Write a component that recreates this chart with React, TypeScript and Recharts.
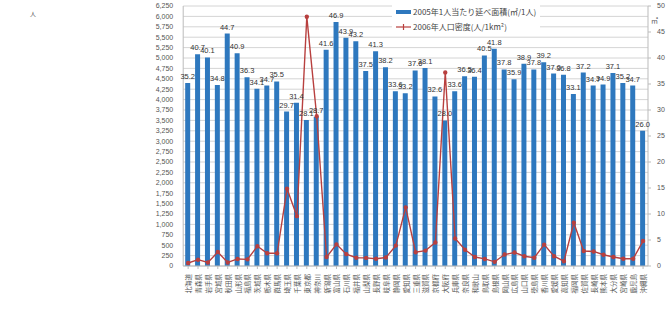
import { ComposedChart, Bar, Line, XAxis, YAxis, CartesianGrid, LabelList, Legend } from 'recharts';

const prefectures = [
  '北海道', '青森県', '岩手県', '宮城県', '秋田県', '山形県', '福島県', '茨城県', '栃木県', '群馬県',
  '埼玉県', '千葉県', '東京都', '神奈川', '新潟県', '富山県', '石川県', '福井県', '山梨県', '長野県',
  '岐阜県', '静岡県', '愛知県', '三重県', '滋賀県', '京都府', '大阪府', '兵庫県', '奈良県', '和歌山',
  '鳥取県', '島根県', '岡山県', '広島県', '山口県', '徳島県', '香川県', '愛媛県', '高知県', '福岡県',
  '佐賀県', '長崎県', '熊本県', '大分県', '宮崎県', '鹿児島', '沖縄県',
];

// 2005年 1人当たり延べ面積 (㎡/1人) - right axis
const floorArea = [
  35.2, 40.7, 40.1, 34.8, 44.7, 40.9, 36.3, 34.1, 34.7, 35.5,
  29.7, 31.4, 28.1, 28.7, 41.6, 46.9, 43.9, 43.2, 37.5, 41.3,
  38.2, 33.6, 33.2, 37.6, 38.1, 32.6, 28.0, 33.6, 36.5, 36.4,
  40.5, 41.8, 37.8, 35.9, 38.9, 37.8, 39.2, 37.0, 36.8, 33.1,
  37.2, 34.7, 34.9, 37.1, 35.2, 34.7, 26.0,
];

// 2006年 人口密度 (人/1km²) - left axis
const density = [
  72, 152, 85, 335, 85, 170, 160, 475, 305, 305,
  1858, 1198, 5990, 3600, 215, 520, 285, 200, 195, 175,
  205, 490, 1410, 330, 370, 565, 4650, 660, 390, 215,
  170, 100, 275, 325, 235, 200, 515, 235, 115, 1040,
  360, 350, 270, 215, 175, 175, 600,
];

const leftTicks = Array.from({ length: 26 }, (_, i) => i * 250);
const rightTicks = [0, 5, 10, 15, 20, 25, 30, 35, 40, 45, 50];

const data = prefectures.map((name, i) => ({ name, area: floorArea[i], density: density[i] }));

const FONT = '"Liberation Sans Narrow", "Liberation Sans", "Noto Sans CJK JP", sans-serif';
const BLUE = '#2E78BE';
const RED = '#B8403F';

const PrefTick = (props: any) => {
  const { x, y, payload } = props;
  return (
    <text
      x={x}
      y={y + 3}
      transform={`rotate(-90, ${x}, ${y + 3})`}
      textAnchor="end"
      dominantBaseline="central"
      fontSize={6.5}
      fill="#555"
      fontFamily='"Noto Sans CJK JP", sans-serif'
    >
      {payload.value}
    </text>
  );
};

const LegendBox = () => (
  <div style={{ background: '#fff', fontFamily: '"Noto Sans CJK JP", sans-serif', fontSize: 8, color: '#444', padding: '2px 4px' }}>
    <div style={{ display: 'flex', alignItems: 'center', height: 15 }}>
      <span style={{ display: 'inline-block', width: 15, height: 4, background: BLUE, marginRight: 2 }} />
      2005年1人当たり延べ面積(㎡/1人)
    </div>
    <div style={{ display: 'flex', alignItems: 'center', height: 15 }}>
      <svg width={15} height={6} style={{ marginRight: 2 }}>
        <line x1={0} y1={3} x2={15} y2={3} stroke={RED} strokeWidth={1.2} />
        <line x1={7.5} y1={0} x2={7.5} y2={6} stroke={RED} strokeWidth={1.2} />
      </svg>
      2006年人口密度(人/1km²)
    </div>
  </div>
);

export default function App() {
  return (
    <div style={{ position: 'absolute', left: 0, top: 0, width: 672, height: 309, background: '#fff' }}>
      <ComposedChart
        width={672}
        height={309}
        data={data}
        margin={{ top: 6, right: 0, bottom: 0, left: 0 }}
        barCategoryGap="30%"
      >
        <CartesianGrid vertical={false} stroke="#c9c9c9" strokeWidth={0.8} yAxisId="left" />
        <XAxis
          dataKey="name"
          interval={0}
          height={43}
          tick={<PrefTick />}
          tickLine={{ stroke: '#bbb' }}
          axisLine={{ stroke: '#bbb' }}
          tickSize={3}
        />
        <YAxis
          yAxisId="left"
          orientation="left"
          width={35}
          domain={[0, 6250]}
          ticks={leftTicks}
          interval={0}
          tickFormatter={(v: number) => v.toLocaleString('en-US')}
          tick={{ fontSize: 7, fill: '#555', fontFamily: FONT }}
          axisLine={{ stroke: '#bbb' }}
          tickLine={false}
          tickMargin={4}
        />
        <YAxis
          yAxisId="right"
          orientation="right"
          width={24}
          domain={[0, 50]}
          ticks={rightTicks}
          interval={0}
          tick={{ fontSize: 7, fill: '#555', fontFamily: FONT }}
          axisLine={{ stroke: '#bbb' }}
          tickLine={{ stroke: '#bbb' }}
          tickSize={3}
          tickMargin={6}
        />
        <Bar yAxisId="right" dataKey="area" fill={BLUE} barSize={5} isAnimationActive={false}>
          <LabelList
            dataKey="area"
            position="top"
            offset={4}
            formatter={(v: any) => Number(v).toFixed(1)}
            style={{ fontSize: 7.5, fill: '#333', fontFamily: FONT }}
          />
        </Bar>
        <Line
          yAxisId="left"
          dataKey="density"
          stroke={RED}
          strokeWidth={1.4}
          dot={{ r: 1.5, fill: RED, stroke: RED }}
          isAnimationActive={false}
        />
        <Legend
          content={<LegendBox />}
          layout="vertical"
          verticalAlign="top"
          align="left"
          wrapperStyle={{ left: 392, top: 2, width: 'auto' }}
        />
      </ComposedChart>
      <span style={{ position: 'absolute', left: 30, top: 9, fontSize: 6, color: '#555', fontFamily: '"Noto Sans CJK JP", sans-serif' }}>人</span>
      <span style={{ position: 'absolute', left: 651, top: 15, fontSize: 7, color: '#555', fontFamily: FONT }}>㎡</span>
    </div>
  );
}
